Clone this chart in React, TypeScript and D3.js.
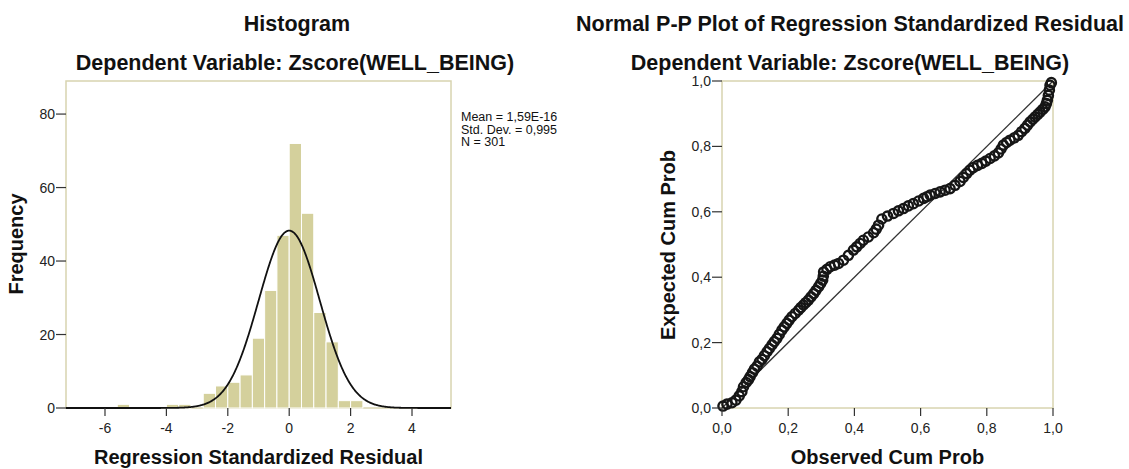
import React from 'react';
import * as d3 from 'd3';

// histogram of regression standardized residuals (bins of 0.4)
const binWidth = 0.4;
const binLows = [-5.6, -4.0, -3.6, -2.8, -2.4, -2.0, -1.6, -1.2, -0.8, -0.4, 0, 0.4, 0.8, 1.2, 1.6, 2.0];
const binCounts = [1, 1, 1, 4, 6, 7, 9, 19, 32, 47, 72, 53, 26, 18, 2, 2];
const histXTicks = [-6, -4, -2, 0, 2, 4];
const histYTicks = [0, 20, 40, 60, 80];
const statMean = 1.59e-16;
const statSd = 0.995;
const statN = 301;
const statLines = ['Mean = 1,59E-16', 'Std. Dev. = 0,995', 'N = 301'];

const observedCum = [
  0.003, 0.015, 0.03, 0.042, 0.052, 0.06, 0.065, 0.073, 0.08, 0.085, 0.092, 0.098, 0.106, 0.113,
  0.121, 0.128, 0.136, 0.143, 0.151, 0.158, 0.166, 0.173, 0.181, 0.188, 0.196, 0.203, 0.211, 0.221,
  0.231, 0.238, 0.246, 0.253, 0.261, 0.269, 0.277, 0.284, 0.292, 0.298, 0.304, 0.306, 0.307, 0.317,
  0.327, 0.34, 0.352, 0.367, 0.382, 0.397, 0.407, 0.417, 0.427, 0.442, 0.458, 0.466, 0.473, 0.483,
  0.5, 0.518, 0.533, 0.548, 0.563, 0.578, 0.594, 0.609, 0.619, 0.629, 0.644, 0.659, 0.674, 0.689,
  0.704, 0.719, 0.729, 0.739, 0.749, 0.759, 0.772, 0.785, 0.797, 0.81, 0.823, 0.835, 0.843, 0.85,
  0.86, 0.87, 0.883, 0.895, 0.905, 0.915, 0.923, 0.931, 0.939, 0.946, 0.954, 0.961, 0.969, 0.976,
  0.98, 0.983, 0.986, 0.989, 0.991, 0.995
];
const expectedCum = [
  0.006, 0.012, 0.016, 0.024, 0.037, 0.05, 0.065, 0.078, 0.087, 0.096, 0.108, 0.119, 0.128, 0.141,
  0.149, 0.16, 0.172, 0.182, 0.193, 0.203, 0.213, 0.225, 0.238, 0.248, 0.259, 0.269, 0.279, 0.289,
  0.299, 0.307, 0.315, 0.322, 0.33, 0.34, 0.35, 0.36, 0.371, 0.381, 0.391, 0.403, 0.416, 0.424,
  0.432, 0.437, 0.442, 0.452, 0.467, 0.483, 0.493, 0.503, 0.513, 0.523, 0.536, 0.547, 0.559, 0.578,
  0.587, 0.595, 0.603, 0.61, 0.618, 0.625, 0.633, 0.641, 0.646, 0.651, 0.656, 0.661, 0.666, 0.671,
  0.681, 0.693, 0.705, 0.717, 0.727, 0.735, 0.742, 0.748, 0.755, 0.763, 0.771, 0.78, 0.792, 0.804,
  0.812, 0.819, 0.826, 0.834, 0.845, 0.855, 0.865, 0.875, 0.883, 0.89, 0.898, 0.905, 0.913, 0.921,
  0.931, 0.941, 0.956, 0.972, 0.987, 0.995
];
const ppTicks = [0, 0.2, 0.4, 0.6, 0.8, 1.0];
const ppLabels = ['0,0', '0,2', '0,4', '0,6', '0,8', '1,0'];

const font = '"Liberation Sans", Arial, sans-serif';
const frameColor = '#d8d4b0';
const barColor = '#d4d09c';
const tickColor = '#333';
const titleSize = 21.5;

const hx = d3.scaleLinear().domain([-7.27, 5.27]).range([66, 451]);
const hy = d3.scaleLinear().domain([0, 89]).range([408, 81]);

const px = d3.scaleLinear().domain([0, 1]).range([722, 1053]);
const py = d3.scaleLinear().domain([0, 1]).range([408, 81]);

// fitted normal curve from the stats shown in the legend
const normalCurve = () => {
  const [a, b] = hx.domain();
  const xs = d3.range(a, b + 0.001, 0.02);
  const k = statN * binWidth / (statSd * Math.sqrt(2 * Math.PI));
  const line = d3
    .line<number>()
    .x(d => hx(d))
    .y(d => hy(k * Math.exp(-0.5 * ((d - statMean) / statSd) ** 2)));
  return line(xs) || '';
};

const ppPoints = observedCum.map((o, i) => ({ o, e: expectedCum[i] }));

export default function App() {
  return (
    <div style={{ position: 'absolute', left: 0, top: 0 }}>
      <svg width={1129} height={469} style={{ display: 'block', background: '#fff' }} fontFamily={font}>
        {/* histogram */}
        <text x={297} y={31} textAnchor="middle" fontSize={titleSize} fontWeight="bold" fill="#111">Histogram</text>
        <text x={295} y={70} textAnchor="middle" fontSize={titleSize} fontWeight="bold" fill="#111">
          Dependent Variable: Zscore(WELL_BEING)
        </text>
        <rect x={66} y={81} width={385} height={327} fill="#fff" stroke={frameColor} strokeWidth={1.5} />
        {binLows.map((b, i) => (
          <rect
            key={i}
            x={hx(b)}
            y={hy(binCounts[i])}
            width={hx(b + binWidth) - hx(b)}
            height={hy(0) - hy(binCounts[i])}
            fill={barColor}
            stroke="#fff"
            strokeWidth={1}
          />
        ))}
        <path d={normalCurve()} fill="none" stroke="#111" strokeWidth={1.8} />
        {histYTicks.map(t => (
          <g key={t}>
            <line x1={56} x2={66} y1={hy(t)} y2={hy(t)} stroke={tickColor} strokeWidth={1.2} />
            <text x={55} y={hy(t) + 5} textAnchor="end" fontSize={14} fill="#222">{t}</text>
          </g>
        ))}
        {histXTicks.map(t => (
          <g key={t}>
            <line x1={hx(t)} x2={hx(t)} y1={408} y2={416} stroke={tickColor} strokeWidth={1.2} />
            <text x={hx(t)} y={433} textAnchor="middle" fontSize={14} fill="#222">{t}</text>
          </g>
        ))}
        <text
          transform="translate(23,244) rotate(-90)"
          textAnchor="middle"
          fontSize={20}
          fontWeight="bold"
          fill="#111"
        >
          Frequency
        </text>
        <text x={258.5} y={464} textAnchor="middle" fontSize={20} fontWeight="bold" fill="#111">
          Regression Standardized Residual
        </text>
        {statLines.map((s, i) => (
          <text key={i} x={461} y={121 + i * 12.5} fontSize={12.5} fill="#111">{s}</text>
        ))}

        {/* normal P-P plot */}
        <text x={850} y={31} textAnchor="middle" fontSize={titleSize} fontWeight="bold" fill="#111">
          Normal P-P Plot of Regression Standardized Residual
        </text>
        <text x={850} y={70} textAnchor="middle" fontSize={titleSize} fontWeight="bold" fill="#111">
          Dependent Variable: Zscore(WELL_BEING)
        </text>
        <rect x={722} y={81} width={331} height={327} fill="#fff" stroke={frameColor} strokeWidth={1.5} />
        <line x1={px(0)} y1={py(0)} x2={px(1)} y2={py(1)} stroke="#333" strokeWidth={1.3} />
        {ppPoints.map((p, i) => (
          <circle key={i} cx={px(p.o)} cy={py(p.e)} r={4.6} fill="none" stroke="#161616" strokeWidth={2.4} />
        ))}
        {ppTicks.map((t, i) => (
          <g key={t}>
            <line x1={712} x2={722} y1={py(t)} y2={py(t)} stroke={tickColor} strokeWidth={1.2} />
            <text x={711} y={py(t) + 5} textAnchor="end" fontSize={14} fill="#222">{ppLabels[i]}</text>
            <line x1={px(t)} x2={px(t)} y1={408} y2={416} stroke={tickColor} strokeWidth={1.2} />
            <text x={px(t)} y={433} textAnchor="middle" fontSize={14} fill="#222">{ppLabels[i]}</text>
          </g>
        ))}
        <text
          transform="translate(675,245) rotate(-90)"
          textAnchor="middle"
          fontSize={20}
          fontWeight="bold"
          fill="#111"
        >
          Expected Cum Prob
        </text>
        <text x={887.5} y={464} textAnchor="middle" fontSize={20} fontWeight="bold" fill="#111">
          Observed Cum Prob
        </text>
      </svg>
    </div>
  );
}
